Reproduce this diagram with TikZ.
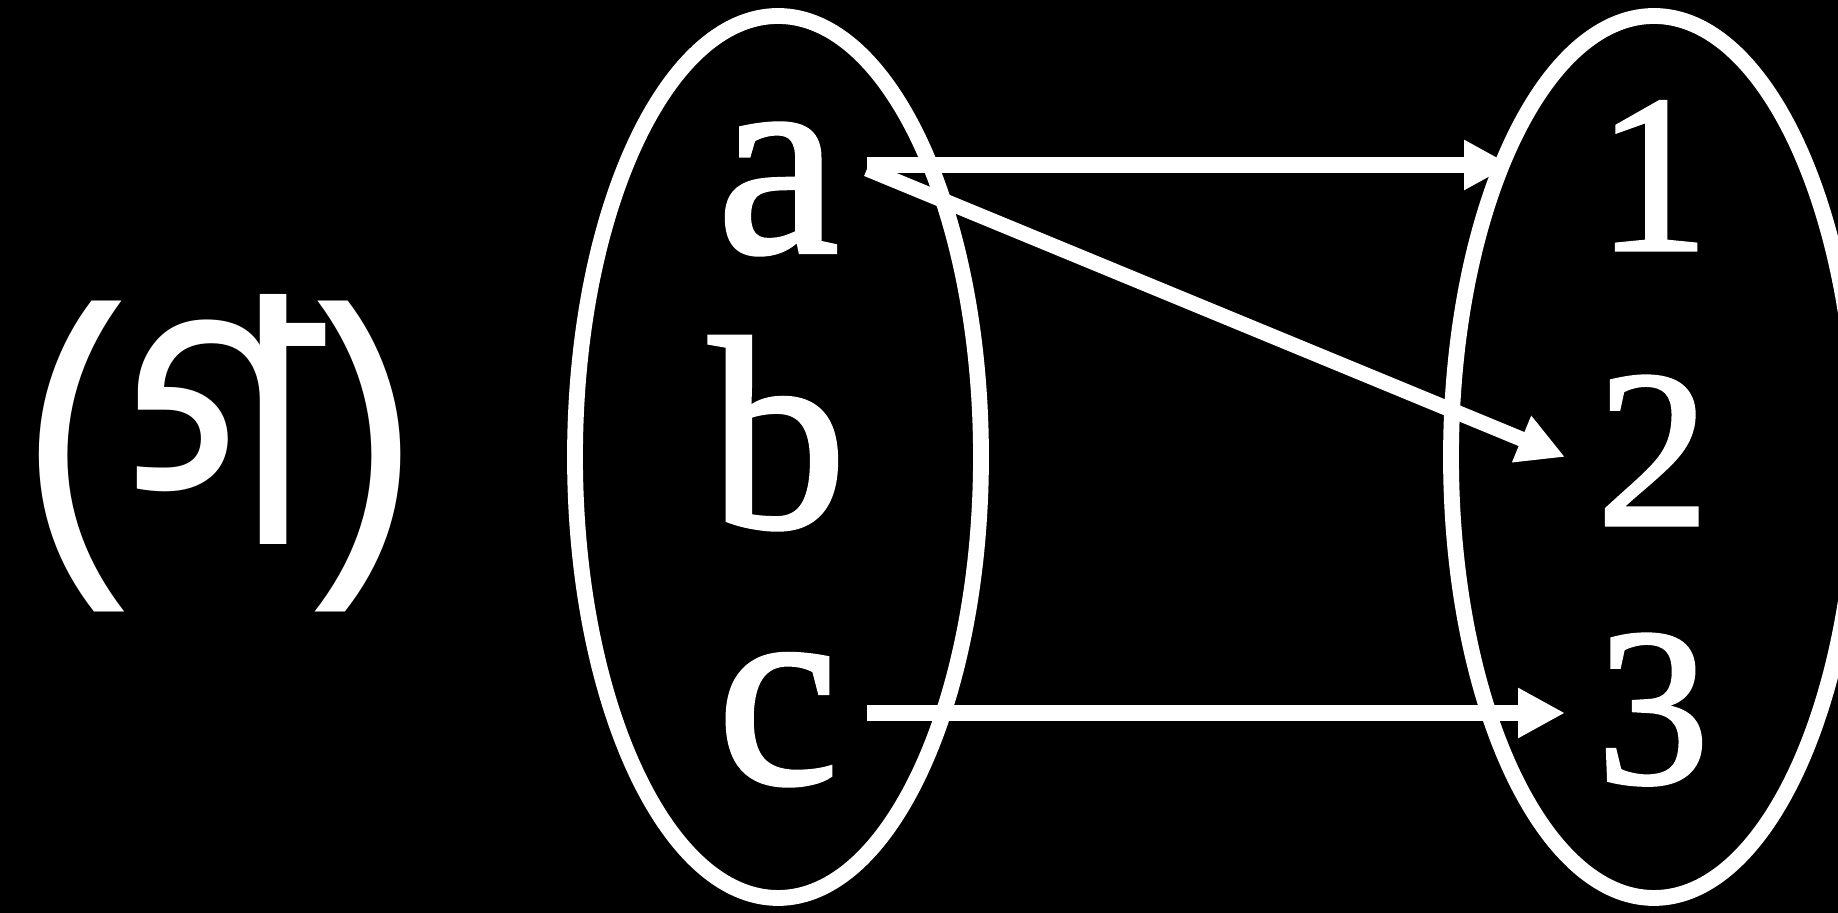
\documentclass[tikz,border=0pt]{standalone}
\usepackage{fontspec}
\setmainfont{Liberation Serif}
\newfontfamily\elemfont[FakeBold=1.5]{Liberation Serif}
\newfontfamily\bengfont[Script=Bengali]{Hind Siliguri}
\usetikzlibrary{shapes.geometric, arrows.meta, positioning}
\tikzset{
  setbox/.style={ellipse, draw=white, line width=4.5pt, minimum width=4.06cm, minimum height=8.82cm, inner sep=0pt},
  elem/.style={text=white, anchor=base, inner sep=0pt, font=\elemfont\fontsize{78}{78}\selectfont},
  num/.style={text=white, anchor=base, inner sep=0pt, font=\elemfont\fontsize{64}{64}\selectfont},
  tag/.style={text=white, inner sep=0pt, font=\bengfont\fontsize{98}{98}\selectfont},
  arrow/.style={-{Triangle[length=0.47cm, width=0.47cm]}, draw=white, line width=4.3pt},
}

\begin{document}
\begin{tikzpicture}
\clip (0,0) rectangle (18.38,9.13);
\fill[black] (0,0) rectangle (18.38,9.13);
\node[tag] (lbl) at (2.20,4.60){(গ)};
\node[setbox] (dom) at (7.78,4.56){};
\node[setbox] (cod) at (16.54,4.56){};
\node[elem] (a) at (7.78,6.61){a};
\node[elem] (b) at (7.78,3.86){b};
\node[elem] (c) at (7.78,1.30){c};
\node[num] (one) at (16.53,6.63){1};
\node[num] (two) at (16.53,3.88){2};
\node[num] (three) at (16.53,1.30){3};
\coordinate (aout) at (8.67,7.48);
\coordinate (adiag) at (8.67,7.44);
\coordinate (cout) at (8.67,2.00);
\coordinate (in1) at (15.11,7.48);
\coordinate (in2) at (15.65,4.56);
\coordinate (in3) at (15.65,2.00);
\draw[arrow](aout)--(in1);
\draw[arrow](adiag)--(in2);
\draw[arrow](cout)--(in3);
\end{tikzpicture}
\end{document}
